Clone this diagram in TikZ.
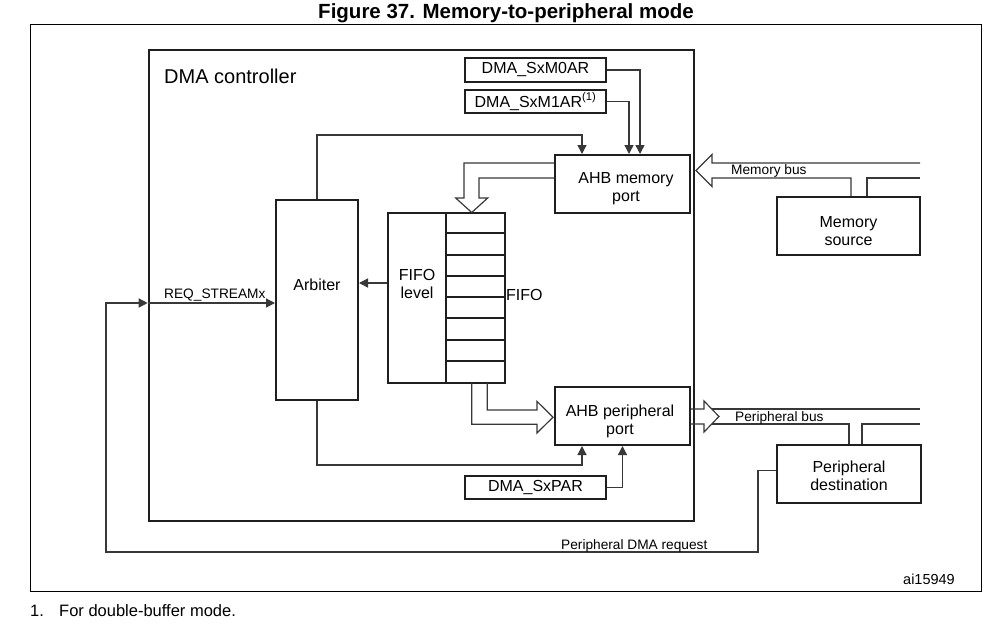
\documentclass[tikz,border=0pt]{standalone}
\usepackage{fontspec}
\setmainfont{Liberation Sans}
\usetikzlibrary{arrows.meta,calc}
\begin{document}
\begin{tikzpicture}[x=1pt,y=-1pt,
  box/.style={draw=black!88,line width=2pt,rectangle,inner sep=0pt,align=center,font=\fontsize{16}{18}\selectfont},
  conn/.style={draw=black!78,line width=1.3pt},
  hollow/.style={draw=black!78,line width=1.2pt,line join=miter},
  arr/.style={-{Triangle[length=9pt,width=9pt]}},
  lbl/.style={font=\fontsize{13.7}{15}\selectfont,inner sep=0pt},
  txt/.style={font=\fontsize{16}{18}\selectfont,inner sep=0pt,align=center}]
\useasboundingbox (0,0) rectangle (998,626);
% title and frame
\node[font=\bfseries\fontsize{20.5}{22}\selectfont,anchor=base,inner sep=0pt] (title) at (506,18.5) {Figure 37. Memory-to-peripheral mode};
\node[draw=black,line width=1pt,minimum width=951pt,minimum height=566pt,inner sep=0pt] (frame) at (505.5,308) {};
\node[font=\fontsize{14.5}{16}\selectfont,anchor=base east,inner sep=0pt] (ai) at (955,584) {ai15949};
\node[font=\fontsize{16.5}{18}\selectfont,anchor=base west,inner sep=0pt] (fn1) at (30,616) {1.};
\node[font=\fontsize{16.5}{18}\selectfont,anchor=base west,inner sep=0pt] (fn) at (59,616) {For double-buffer mode.};
% DMA controller
\node[draw=black!88,line width=2.6pt,minimum width=545pt,minimum height=471pt,inner sep=0pt] (dma) at (421.5,285.5) {};
\node[font=\fontsize{20}{22}\selectfont,anchor=base west,inner sep=0pt] (dmat) at (164,84) {DMA controller};
% registers
\node[box,minimum width=141pt,minimum height=24pt] (m0) at (535.5,70) {DMA\_SxM0AR};
\node[box,minimum width=141pt,minimum height=23pt] (m1) at (535.5,101.5) {DMA\_SxM1AR\textsuperscript{(1)}};
\node[box,minimum width=141pt,minimum height=23pt] (par) at (535.5,487.5) {DMA\_SxPAR};
% ports
\node[box,minimum width=135pt,minimum height=58pt] (ahbm) at (622.5,184) {};
\node[txt] (ahbmt) at (626,189) {AHB memory\\port};
\node[box,minimum width=135pt,minimum height=58pt] (ahbp) at (622.5,416) {};
\node[txt] (ahbpt) at (620,421) {AHB peripheral\\port};
% arbiter
\node[box,minimum width=82pt,minimum height=200pt] (arb) at (317,300) {};
\node[txt] (arbt) at (317,285) {Arbiter};
% FIFO
\node[box,minimum width=58pt,minimum height=170pt] (fl) at (417,298) {};
\node[txt] (flt) at (417,284) {FIFO\\level};
\node[box,minimum width=59pt,minimum height=170pt] (ff) at (475.5,298) {};
\foreach \k in {1,...,7} {
  \draw[draw=black!88,line width=2pt] ($(ff.north west)+(0,\k*21.25)$) -- ($(ff.north east)+(0,\k*21.25)$);
}
\node[txt,anchor=west] (fft) at (506,295) {FIFO};
% external boxes
\node[box,minimum width=143pt,minimum height=58pt] (ms) at (848.5,226) {};
\node[txt] (mst) at (848.5,231) {Memory\\source};
\node[box,minimum width=144pt,minimum height=58pt] (pd) at (849,474) {};
\node[txt] (pdt) at (849,476) {Peripheral\\destination};
% register connections
\draw[conn,arr] (m0.east) -| ([xshift=17.5pt]ahbm.north);
\draw[conn,arr] (m1.east) -| ([xshift=6.5pt]ahbm.north);
\draw[conn,arr] (arb.north) -- ++(0,-64) -| ([xshift=-40.5pt]ahbm.north);
\draw[conn,arr] (arb.south) -- ++(0,64) -| ([xshift=-40.5pt]ahbp.south);
\draw[conn,arr] (par.east) -| (ahbp.south);
\draw[conn,arr] ([yshift=15pt]fl.west) -- ([yshift=15pt]fl.west -| arb.east);
% request line
\coordinate (rq) at (106,303);
\coordinate (rb) at (758,552);
\draw[conn,arr] ([yshift=3.3pt]pd.west) -| (rb) -| (rq) -- (rq -| dma.west);
\draw[conn,arr] (rq -| dma.west) -- (rq -| arb.west);
\node[lbl,anchor=base west] (reqt) at (164,298) {REQ\_STREAMx};
\node[lbl,anchor=base west] (pdrt) at (561,549) {Peripheral DMA request};
% hollow arrow AHB memory -> FIFO
\draw[hollow] (ahbm.west |- 0,163) -- (464,163) -- (464,198) -- (455.7,198) -- (471.7,212.5) -- (487.7,198) -- (479,198) -- (479,178) -- (ahbm.west |- 0,178);
% hollow arrow FIFO -> AHB peripheral
\draw[hollow] (471.7,383) -- (471.7,424.3) -- (537,424.3) -- (537,433) -- (553,417.2) -- (537,401.4) -- (537,410) -- (487.3,410) -- (487.3,383);
% memory bus
\draw[hollow] (920,163) -- (712,163) -- (712,154.5) -- (696,170.5) -- (712,186.5) -- (712,178) -- ([xshift=2.5pt]ms.north |- 0,178) -- ([xshift=2.5pt]ms.north);
\draw[hollow] ([xshift=18.5pt]ms.north) -- ([xshift=18.5pt]ms.north |- 0,178) -- (920,178);
\node[lbl,anchor=base west] (mbt) at (731,174.5) {Memory bus};
% peripheral bus
\draw[hollow] (ahbp.east |- 0,409) -- (704,409) -- (704,401) -- (719,416.5) -- (704,432) -- (704,424) -- (ahbp.east |- 0,424);
\draw[hollow] (711.7,409) -- (920,409);
\draw[hollow] (711.7,424) -- (pd.north |- 0,424) -- (pd.north);
\draw[hollow] ([xshift=13pt]pd.north) -- ([xshift=13pt]pd.north |- 0,424) -- (920,424);
\node[lbl,anchor=base west] (pbt) at (735,421.5) {Peripheral bus};
\end{tikzpicture}
\end{document}
